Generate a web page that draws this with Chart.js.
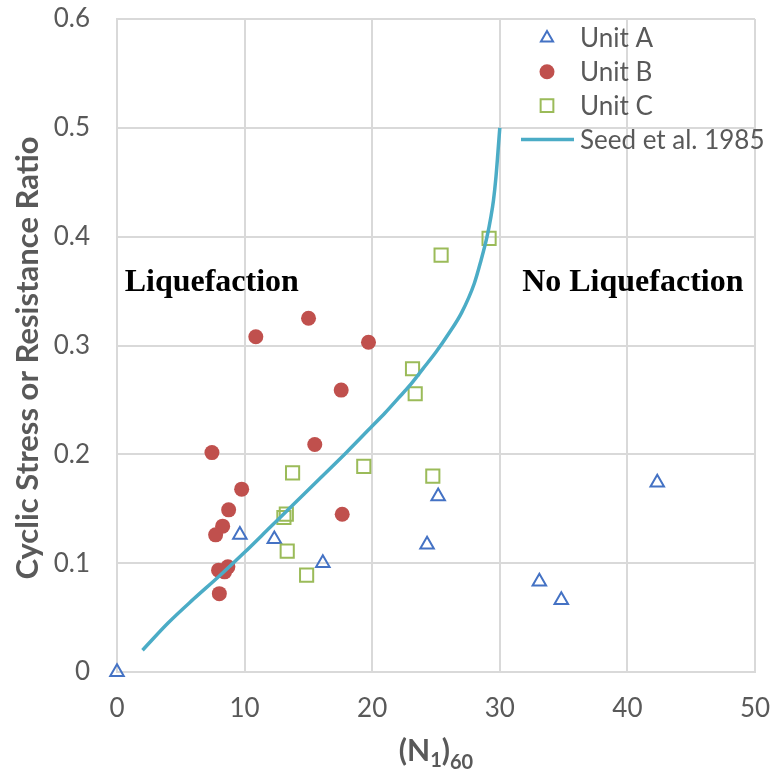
<!DOCTYPE html>
<html>
<head>
<meta charset="utf-8">
<script src="https://cdn.jsdelivr.net/npm/chart.js@4"></script>
<style>
body{margin:0;background:#fff;}
#wrap{width:770px;height:776px;}
</style>
</head>
<body>
<div id="wrap"><canvas id="chart" width="770" height="776"></canvas></div>
<script>
// values
var unitAX=[0, 9.63, 12.33, 16.13, 24.3, 25.17, 33.1, 34.82, 42.34];
var unitAY=[0, 0.126, 0.122, 0.100, 0.117, 0.1615, 0.083, 0.066, 0.174];

var unitBX=[15.01, 10.88, 19.71, 17.57, 7.44, 15.5, 9.77, 8.75, 8.28, 7.73, 17.65, 7.96, 8.69, 8.43, 8.02];
var unitBY=[0.325, 0.308, 0.303, 0.259, 0.2016, 0.209, 0.168, 0.149, 0.134, 0.126, 0.145, 0.0936, 0.0966, 0.092, 0.072];

var unitCX=[13.76, 19.34, 13.27, 13.08, 13.34, 14.86, 29.16, 25.4, 23.16, 23.37, 24.75];
var unitCY=[0.183, 0.189, 0.145, 0.142, 0.111, 0.089, 0.3985, 0.383, 0.2786, 0.2557, 0.180];

var seedX=[2, 4, 6, 8, 10, 12, 14, 16, 18, 20, 21, 22, 23, 24, 25, 26, 27, 28, 28.5, 29, 29.3, 29.5, 29.7, 29.85, 30];
var seedY=[0.020, 0.045, 0.067, 0.088, 0.110, 0.133, 0.156, 0.179, 0.202, 0.226, 0.238, 0.251, 0.264, 0.279, 0.294, 0.311, 0.330, 0.357, 0.377, 0.400, 0.418, 0.433, 0.455, 0.477, 0.500];

var seriesNames=['Unit A', 'Unit B', 'Unit C', 'Seed et al. 1985'];
var xTickLabels=['0', '10', '20', '30', '40', '50'];
var yTickLabels=['0', '0.1', '0.2', '0.3', '0.4', '0.5', '0.6'];
var regionLabels=['Liquefaction', 'No Liquefaction'];

var grey='#595959';

function toPoints(xs, ys){
	var pts=[];
	for(var i=0; i<xs.length; i++){
		pts.push({x:xs[i], y:ys[i]});
	}
	return pts;
}

// legend drawn inside the plot, top right
var insideLegend={
	id:'insideLegend',
	afterDraw:function(chart){
		var ctx=chart.ctx;
		var top=38;
		var step=33.8;
		ctx.save();
		for(var i=0; i<chart.data.datasets.length; i++){
			var ds=chart.data.datasets[i];
			var y=top+i*step;
			if(ds.showLine){
				ctx.strokeStyle=ds.borderColor;
				ctx.lineWidth=ds.borderWidth;
				ctx.beginPath();
				ctx.moveTo(521, y);
				ctx.lineTo(574, y);
				ctx.stroke();
			}else{
				ctx.fillStyle=ds.backgroundColor;
				ctx.strokeStyle=ds.borderColor;
				ctx.lineWidth=ds.borderWidth;
				Chart.helpers.drawPoint(ctx, {
					pointStyle:ds.pointStyle,
					radius:ds.legendRadius,
					rotation:0,
					borderWidth:ds.borderWidth
				}, 547, y);
			}
			ctx.fillStyle=grey;
			ctx.font='26px Lato';
			ctx.textAlign='left';
			ctx.textBaseline='middle';
			ctx.fillText(ds.label, 580, y+1);
		}
		ctx.restore();
	}
};

// region labels, the y title and the x title with subscripts
var extraText={
	id:'extraText',
	afterDatasetsDraw:function(chart){
		var ctx=chart.ctx;
		var xs=chart.scales.x;
		var ys=chart.scales.y;
		ctx.save();
		ctx.fillStyle='#000';
		ctx.font='bold 32px "Liberation Serif"';
		ctx.textAlign='left';
		ctx.textBaseline='middle';
		ctx.fillText(regionLabels[0], xs.getPixelForValue(0.6), ys.getPixelForValue(0.358));
		ctx.fillText(regionLabels[1], xs.getPixelForValue(31.75), ys.getPixelForValue(0.358));
		ctx.restore();
	},
	afterDraw:function(chart){
		var ctx=chart.ctx;
		var area=chart.chartArea;
		// y title, a bit below the middle like the original
		ctx.save();
		ctx.fillStyle=grey;
		ctx.font='bold 31px Lato';
		ctx.textAlign='center';
		ctx.textBaseline='alphabetic';
		ctx.translate(38, 358);
		ctx.rotate(-Math.PI/2);
		ctx.fillText('Cyclic Stress or Resistance Ratio', 0, 0);
		ctx.restore();

		var parts=[['(N', 30, 0], ['1', 20, 6], [')', 30, 0], ['60', 20, 8]];
		var base=761;
		ctx.save();
		ctx.fillStyle=grey;
		ctx.textBaseline='alphabetic';
		ctx.textAlign='left';
		var total=0;
		for(var i=0; i<parts.length; i++){
			ctx.font='bold '+parts[i][1]+'px Lato';
			total+=ctx.measureText(parts[i][0]).width;
		}
		var x=(area.left+area.right)/2-total/2;
		for(var j=0; j<parts.length; j++){
			ctx.font='bold '+parts[j][1]+'px Lato';
			ctx.fillText(parts[j][0], x, base+parts[j][2]);
			x+=ctx.measureText(parts[j][0]).width;
		}
		ctx.restore();
	}
};

var ctx=document.getElementById('chart');
var chart=new Chart(ctx, {
	type:'scatter',
	data:{
		datasets:[{
			label:seriesNames[0],
			data:toPoints(unitAX, unitAY),
			pointStyle:'triangle',
			pointRadius:7.8,
			legendRadius:7,
			backgroundColor:'rgba(0,0,0,0)',
			borderColor:'#4472C4',
			borderWidth:2,
			clip:false,
			order:3
		},{
			label:seriesNames[1],
			data:toPoints(unitBX, unitBY),
			pointStyle:'circle',
			pointRadius:7.5,
			legendRadius:7.5,
			backgroundColor:'#C0504D',
			borderColor:'#C0504D',
			borderWidth:0,
			order:2
		},{
			label:seriesNames[2],
			data:toPoints(unitCX, unitCY),
			pointStyle:'rect',
			pointRadius:9.3,
			legendRadius:9,
			backgroundColor:'rgba(0,0,0,0)',
			borderColor:'#9BBB59',
			borderWidth:2,
			order:1
		},{
			label:seriesNames[3],
			data:toPoints(seedX, seedY),
			showLine:true,
			pointRadius:0,
			borderColor:'#4BACC6',
			backgroundColor:'#4BACC6',
			borderWidth:3.5,
			cubicInterpolationMode:'monotone',
			order:0
		}]
	},
	options:{
		responsive:false,
		animation:false,
		layout:{padding:{left:0, top:19, right:15, bottom:0}},
		plugins:{
			legend:{display:false},
			tooltip:{enabled:false}
		},
		scales:{
			x:{
				type:'linear',
				min:0,
				max:50,
				afterFit:function(s){
					s.height=104;
					s.paddingLeft=0;
					s.paddingRight=0;
				},
				ticks:{
					stepSize:10,
					padding:21,
					color:grey,
					font:{family:'Lato', size:26},
					callback:function(v, i){ return xTickLabels[i]; }
				},
				grid:{color:'#d9d9d9', lineWidth:2, drawTicks:false},
				border:{color:'#d9d9d9', width:2}
			},
			y:{
				type:'linear',
				min:0,
				max:0.6,
				afterFit:function(s){
					s.width=117;
					s.paddingTop=0;
					s.paddingBottom=0;
				},
				ticks:{
					stepSize:0.1,
					padding:27,
					color:grey,
					font:{family:'Lato', size:26},
					callback:function(v, i){ return yTickLabels[i]; }
				},
				grid:{color:'#d9d9d9', lineWidth:2, drawTicks:false},
				border:{color:'#d9d9d9', width:2}
			}
		}
	},
	plugins:[insideLegend, extraText]
});
</script>
</body>
</html>
